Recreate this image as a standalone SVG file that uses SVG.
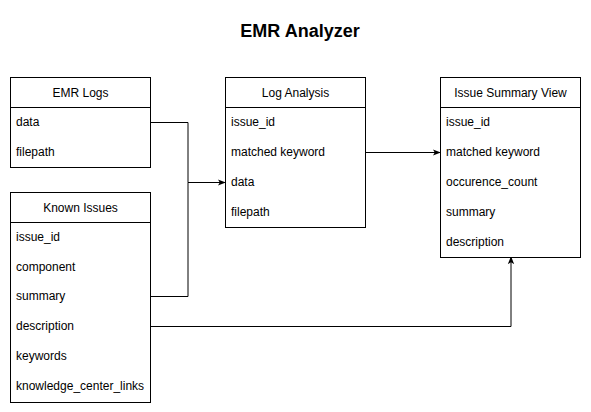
<svg xmlns="http://www.w3.org/2000/svg" width="591" height="412" viewBox="0 0 591 412">
<defs>
<style>
.box{fill:#fff;stroke:#000;stroke-width:1}
.ln{stroke:#000;stroke-width:1;fill:none}
.hd{font-family:"Liberation Sans",Arial,sans-serif;font-size:12px;fill:#000;text-anchor:middle}
.rw{font-family:"Liberation Sans",Arial,sans-serif;font-size:12px;fill:#000}
.title{font-family:"Liberation Sans",Arial,sans-serif;font-size:18px;font-weight:bold;fill:#000;text-anchor:middle}
.edge{stroke:#000;stroke-width:1;fill:none}
</style>
<marker id="arr" viewBox="0 0 10 10" refX="9" refY="5" markerWidth="8" markerHeight="8" markerUnits="userSpaceOnUse" orient="auto">
<path d="M0,1 L10,5 L0,9 L2.5,5 Z" fill="#000"/>
</marker>
</defs>
<rect width="591" height="412" fill="#fff"/>
<text class="title" x="300" y="37">EMR Analyzer</text>

<g id="connectors">
<path class="edge" d="M150.5,122.5 H188 V182.5"/>
<path class="edge" d="M150.5,296.5 H188 V182.5"/>
<path class="edge" d="M188,182.5 H225" marker-end="url(#arr)"/>
<path class="edge" d="M365.5,152.5 H440" marker-end="url(#arr)"/>
<path class="edge" d="M150.5,326.5 H511 V257" marker-end="url(#arr)"/>
</g>

<g id="emr-logs">
<rect class="box" x="10.5" y="77.5" width="140" height="90"/>
<line class="ln" x1="10.5" y1="107.5" x2="150.5" y2="107.5"/>
<text class="hd" x="80.5" y="97">EMR Logs</text>
<text class="rw" x="16" y="126">data</text>
<text class="rw" x="16" y="156">filepath</text>
</g>

<g id="known-issues">
<rect class="box" x="10.5" y="192.5" width="140" height="210"/>
<line class="ln" x1="10.5" y1="222.5" x2="150.5" y2="222.5"/>
<text class="hd" x="80.5" y="212">Known Issues</text>
<text class="rw" x="16" y="241">issue_id</text>
<text class="rw" x="16" y="271">component</text>
<text class="rw" x="16" y="300">summary</text>
<text class="rw" x="16" y="330">description</text>
<text class="rw" x="16" y="360">keywords</text>
<text class="rw" x="16" y="390">knowledge_center_links</text>
</g>

<g id="log-analysis">
<rect class="box" x="225.5" y="77.5" width="140" height="150"/>
<line class="ln" x1="225.5" y1="107.5" x2="365.5" y2="107.5"/>
<text class="hd" x="295.5" y="97">Log Analysis</text>
<text class="rw" x="231" y="126">issue_id</text>
<text class="rw" x="231" y="156">matched keyword</text>
<text class="rw" x="231" y="186">data</text>
<text class="rw" x="231" y="216">filepath</text>
</g>

<g id="issue-summary-view">
<rect class="box" x="440.5" y="77.5" width="140" height="180"/>
<line class="ln" x1="440.5" y1="107.5" x2="580.5" y2="107.5"/>
<text class="hd" x="510.5" y="97">Issue Summary View</text>
<text class="rw" x="446" y="126">issue_id</text>
<text class="rw" x="446" y="156">matched keyword</text>
<text class="rw" x="446" y="186">occurence_count</text>
<text class="rw" x="446" y="216">summary</text>
<text class="rw" x="446" y="246">description</text>
</g>
</svg>
